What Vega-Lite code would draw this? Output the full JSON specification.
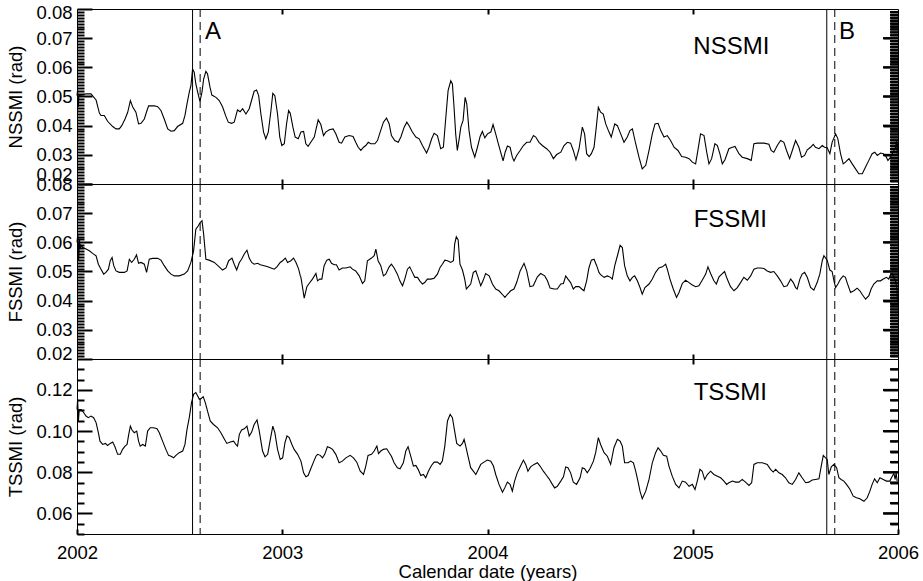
{
"$schema": "https://vega.github.io/schema/vega-lite/v6.json",
"background": "white",
"padding": {"left": 5, "top": 2, "right": 2, "bottom": 0},
"spacing": 0,
"bounds": "flush",
"config": {
  "view": {"stroke": "black", "strokeWidth": 1},
  "font": "Liberation Sans",
  "rule": {"color": "black", "strokeWidth": 1},
  "axis": {"domain": false, "grid": false, "labelFont": "Liberation Sans", "titleFont": "Liberation Sans", "labelFontSize": 18.5, "titleFontSize": 18.5, "labelColor": "black", "titleColor": "black", "tickColor": "black", "tickWidth": 2, "titleFontWeight": "normal"}
},
"datasets": {
"ev": [{"t": 2002.563, "k": "s"}, {"t": 2002.600, "k": "d"}, {"t": 2005.653, "k": "s"}, {"t": 2005.692, "k": "d"}],
"yt1": [{"v":0.021,"m":0},{"v":0.022,"m":0},{"v":0.023,"m":0},{"v":0.024,"m":0},{"v":0.025,"m":0},{"v":0.026,"m":0},{"v":0.027,"m":0},{"v":0.028,"m":0},{"v":0.029,"m":0},{"v":0.03,"m":1},{"v":0.031,"m":0},{"v":0.032,"m":0},{"v":0.033,"m":0},{"v":0.034,"m":0},{"v":0.035,"m":0},{"v":0.036,"m":0},{"v":0.037,"m":0},{"v":0.038,"m":0},{"v":0.039,"m":0},{"v":0.04,"m":1},{"v":0.041,"m":0},{"v":0.042,"m":0},{"v":0.043,"m":0},{"v":0.044,"m":0},{"v":0.045,"m":0},{"v":0.046,"m":0},{"v":0.047,"m":0},{"v":0.048,"m":0},{"v":0.049,"m":0},{"v":0.05,"m":1},{"v":0.051,"m":0},{"v":0.052,"m":0},{"v":0.053,"m":0},{"v":0.054,"m":0},{"v":0.055,"m":0},{"v":0.056,"m":0},{"v":0.057,"m":0},{"v":0.058,"m":0},{"v":0.059,"m":0},{"v":0.06,"m":1},{"v":0.061,"m":0},{"v":0.062,"m":0},{"v":0.063,"m":0},{"v":0.064,"m":0},{"v":0.065,"m":0},{"v":0.066,"m":0},{"v":0.067,"m":0},{"v":0.068,"m":0},{"v":0.069,"m":0},{"v":0.07,"m":1},{"v":0.071,"m":0},{"v":0.072,"m":0},{"v":0.073,"m":0},{"v":0.074,"m":0},{"v":0.075,"m":0},{"v":0.076,"m":0},{"v":0.077,"m":0},{"v":0.078,"m":0},{"v":0.079,"m":0}],
"yt2": [{"v":0.055,"m":0},{"v":0.06,"m":1},{"v":0.065,"m":0},{"v":0.07,"m":0},{"v":0.075,"m":0},{"v":0.08,"m":1},{"v":0.085,"m":0},{"v":0.09,"m":0},{"v":0.095,"m":0},{"v":0.1,"m":1},{"v":0.105,"m":0},{"v":0.11,"m":0},{"v":0.115,"m":0},{"v":0.12,"m":1},{"v":0.125,"m":0},{"v":0.13,"m":0}],
"labN": [{"t": 2002.662, "v": 0.0698, "s": "A"}, {"t": 2005.751, "v": 0.0698, "s": "B"}, {"t": 2005.188, "v": 0.0647, "s": "NSSMI"}],
"labF": [{"t": 2005.183, "v": 0.0652, "s": "FSSMI"}],
"labT": [{"t": 2005.183, "v": 0.1153, "s": "TSSMI"}],
"N": [
{"t":2002.000,"v":0.0503},{"t":2002.003,"v":0.0522},{"t":2002.006,"v":0.0463},{"t":2002.009,"v":0.0503},{"t":2002.020,"v":0.0505},{"t":2002.044,"v":0.0509},{"t":2002.068,"v":0.0509},{"t":2002.093,"v":0.0488},{"t":2002.109,"v":0.0443},{"t":2002.117,"v":0.0435},{"t":2002.133,"v":0.0435},{"t":2002.149,"v":0.0415},{"t":2002.174,"v":0.0397},{"t":2002.190,"v":0.0389},{"t":2002.206,"v":0.0389},{"t":2002.218,"v":0.0400},{"t":2002.234,"v":0.0423},{"t":2002.247,"v":0.0446},{"t":2002.260,"v":0.0486},{"t":2002.271,"v":0.0465},{"t":2002.287,"v":0.0446},{"t":2002.300,"v":0.0406},{"t":2002.312,"v":0.0408},{"t":2002.328,"v":0.0423},{"t":2002.341,"v":0.0452},{"t":2002.349,"v":0.0468},{"t":2002.377,"v":0.0468},{"t":2002.393,"v":0.0465},{"t":2002.409,"v":0.0452},{"t":2002.425,"v":0.0423},{"t":2002.442,"v":0.0389},{"t":2002.458,"v":0.0381},{"t":2002.474,"v":0.0383},{"t":2002.490,"v":0.0397},{"t":2002.515,"v":0.0408},{"t":2002.526,"v":0.0435},{"t":2002.536,"v":0.0475},{"t":2002.547,"v":0.0515},{"t":2002.555,"v":0.0537},{"t":2002.563,"v":0.0594},{"t":2002.571,"v":0.0583},{"t":2002.579,"v":0.0543},{"t":2002.588,"v":0.0515},{"t":2002.599,"v":0.0483},{"t":2002.609,"v":0.0515},{"t":2002.617,"v":0.0560},{"t":2002.628,"v":0.0586},{"t":2002.636,"v":0.0577},{"t":2002.648,"v":0.0532},{"t":2002.657,"v":0.0505},{"t":2002.677,"v":0.0497},{"t":2002.693,"v":0.0486},{"t":2002.709,"v":0.0465},{"t":2002.726,"v":0.0431},{"t":2002.737,"v":0.0412},{"t":2002.753,"v":0.0408},{"t":2002.766,"v":0.0412},{"t":2002.782,"v":0.0454},{"t":2002.795,"v":0.0448},{"t":2002.807,"v":0.0458},{"t":2002.823,"v":0.0440},{"t":2002.839,"v":0.0458},{"t":2002.851,"v":0.0488},{"t":2002.863,"v":0.0518},{"t":2002.875,"v":0.0522},{"t":2002.885,"v":0.0503},{"t":2002.896,"v":0.0440},{"t":2002.909,"v":0.0378},{"t":2002.920,"v":0.0355},{"t":2002.932,"v":0.0378},{"t":2002.945,"v":0.0452},{"t":2002.954,"v":0.0511},{"t":2002.964,"v":0.0503},{"t":2002.977,"v":0.0440},{"t":2002.988,"v":0.0361},{"t":2002.998,"v":0.0332},{"t":2003.010,"v":0.0338},{"t":2003.021,"v":0.0406},{"t":2003.031,"v":0.0452},{"t":2003.039,"v":0.0443},{"t":2003.052,"v":0.0395},{"t":2003.063,"v":0.0361},{"t":2003.078,"v":0.0355},
{"t":2003.091,"v":0.0378},{"t":2003.104,"v":0.0380},{"t":2003.115,"v":0.0338},{"t":2003.126,"v":0.0329},{"t":2003.139,"v":0.0343},{"t":2003.156,"v":0.0361},{"t":2003.167,"v":0.0395},{"t":2003.175,"v":0.0420},{"t":2003.188,"v":0.0404},{"t":2003.201,"v":0.0366},{"t":2003.212,"v":0.0378},{"t":2003.229,"v":0.0386},{"t":2003.248,"v":0.0389},{"t":2003.261,"v":0.0372},{"t":2003.277,"v":0.0343},{"t":2003.289,"v":0.0340},{"t":2003.305,"v":0.0361},{"t":2003.326,"v":0.0366},{"t":2003.345,"v":0.0363},{"t":2003.358,"v":0.0343},{"t":2003.370,"v":0.0326},{"t":2003.383,"v":0.0315},{"t":2003.396,"v":0.0326},{"t":2003.407,"v":0.0332},{"t":2003.419,"v":0.0343},{"t":2003.431,"v":0.0338},{"t":2003.451,"v":0.0338},{"t":2003.464,"v":0.0349},{"t":2003.477,"v":0.0378},{"t":2003.493,"v":0.0412},{"t":2003.508,"v":0.0426},{"t":2003.521,"v":0.0406},{"t":2003.532,"v":0.0366},{"t":2003.548,"v":0.0349},{"t":2003.565,"v":0.0343},{"t":2003.578,"v":0.0361},{"t":2003.594,"v":0.0395},{"t":2003.607,"v":0.0412},{"t":2003.618,"v":0.0400},{"t":2003.634,"v":0.0378},{"t":2003.651,"v":0.0361},{"t":2003.667,"v":0.0355},{"t":2003.683,"v":0.0332},{"t":2003.703,"v":0.0306},{"t":2003.715,"v":0.0326},{"t":2003.728,"v":0.0355},{"t":2003.740,"v":0.0374},{"t":2003.756,"v":0.0366},{"t":2003.772,"v":0.0321},{"t":2003.785,"v":0.0326},{"t":2003.797,"v":0.0429},{"t":2003.808,"v":0.0520},{"t":2003.821,"v":0.0554},{"t":2003.829,"v":0.0543},{"t":2003.837,"v":0.0463},{"t":2003.845,"v":0.0372},{"t":2003.853,"v":0.0315},{"t":2003.862,"v":0.0355},{"t":2003.870,"v":0.0395},{"t":2003.881,"v":0.0418},{"t":2003.891,"v":0.0497},{"t":2003.899,"v":0.0475},{"t":2003.910,"v":0.0383},{"t":2003.922,"v":0.0326},{"t":2003.938,"v":0.0292},{"t":2003.951,"v":0.0326},{"t":2003.964,"v":0.0363},{"t":2003.975,"v":0.0380},{"t":2003.987,"v":0.0358},{"t":2004.000,"v":0.0372},{"t":2004.016,"v":0.0378},{"t":2004.027,"v":0.0404},{"t":2004.040,"v":0.0372},{"t":2004.051,"v":0.0343},{"t":2004.064,"v":0.0309},{"t":2004.076,"v":0.0279},{"t":2004.086,"v":0.0309},{"t":2004.097,"v":0.0330},{"t":2004.110,"v":0.0326},{"t":2004.121,"v":0.0292},{"t":2004.129,"v":0.0279},{"t":2004.142,"v":0.0298},{"t":2004.159,"v":0.0315},{"t":2004.175,"v":0.0332},{"t":2004.191,"v":0.0343},{"t":2004.207,"v":0.0343},{"t":2004.224,"v":0.0366},{"t":2004.235,"v":0.0361},{"t":2004.251,"v":0.0343},{"t":2004.267,"v":0.0332},{"t":2004.288,"v":0.0321},{"t":2004.305,"v":0.0309},{"t":2004.321,"v":0.0287},{"t":2004.337,"v":0.0301},{"t":2004.357,"v":0.0309},{"t":2004.373,"v":0.0332},{"t":2004.389,"v":0.0343},{"t":2004.405,"v":0.0340},{"t":2004.418,"v":0.0315},{"t":2004.431,"v":0.0283},{"t":2004.446,"v":0.0321},{"t":2004.462,"v":0.0395},{"t":2004.473,"v":0.0372},{"t":2004.483,"v":0.0304},{"t":2004.495,"v":0.0294},{"t":2004.506,"v":0.0304},{"t":2004.519,"v":0.0326},{"t":2004.530,"v":0.0395},{"t":2004.540,"v":0.0463},
{"t":2004.551,"v":0.0446},{"t":2004.564,"v":0.0440},{"t":2004.576,"v":0.0406},{"t":2004.592,"v":0.0378},{"t":2004.603,"v":0.0361},{"t":2004.620,"v":0.0406},{"t":2004.633,"v":0.0400},{"t":2004.649,"v":0.0372},{"t":2004.665,"v":0.0343},{"t":2004.681,"v":0.0361},{"t":2004.694,"v":0.0383},{"t":2004.706,"v":0.0389},{"t":2004.722,"v":0.0338},{"t":2004.738,"v":0.0292},{"t":2004.754,"v":0.0252},{"t":2004.771,"v":0.0264},{"t":2004.787,"v":0.0315},{"t":2004.803,"v":0.0372},{"t":2004.816,"v":0.0406},{"t":2004.831,"v":0.0408},{"t":2004.844,"v":0.0383},{"t":2004.860,"v":0.0361},{"t":2004.876,"v":0.0366},{"t":2004.892,"v":0.0349},{"t":2004.909,"v":0.0326},{"t":2004.928,"v":0.0315},{"t":2004.946,"v":0.0294},{"t":2004.965,"v":0.0292},{"t":2004.982,"v":0.0287},{"t":2004.998,"v":0.0275},{"t":2005.014,"v":0.0269},{"t":2005.025,"v":0.0315},{"t":2005.038,"v":0.0372},{"t":2005.055,"v":0.0366},{"t":2005.068,"v":0.0309},{"t":2005.079,"v":0.0269},{"t":2005.092,"v":0.0287},{"t":2005.108,"v":0.0338},{"t":2005.120,"v":0.0332},{"t":2005.132,"v":0.0304},{"t":2005.144,"v":0.0269},{"t":2005.157,"v":0.0283},{"t":2005.176,"v":0.0321},{"t":2005.193,"v":0.0326},{"t":2005.206,"v":0.0329},{"t":2005.225,"v":0.0304},{"t":2005.241,"v":0.0292},{"t":2005.266,"v":0.0287},{"t":2005.285,"v":0.0281},{"t":2005.298,"v":0.0338},{"t":2005.314,"v":0.0340},{"t":2005.347,"v":0.0340},{"t":2005.371,"v":0.0336},{"t":2005.382,"v":0.0315},{"t":2005.395,"v":0.0309},{"t":2005.412,"v":0.0332},{"t":2005.428,"v":0.0349},{"t":2005.444,"v":0.0343},{"t":2005.457,"v":0.0315},{"t":2005.472,"v":0.0287},{"t":2005.485,"v":0.0315},{"t":2005.501,"v":0.0349},{"t":2005.517,"v":0.0326},{"t":2005.530,"v":0.0292},{"t":2005.545,"v":0.0298},{"t":2005.558,"v":0.0317},{"t":2005.574,"v":0.0326},{"t":2005.587,"v":0.0336},{"t":2005.598,"v":0.0326},{"t":2005.615,"v":0.0321},{"t":2005.631,"v":0.0332},{"t":2005.642,"v":0.0326},{"t":2005.655,"v":0.0324},{"t":2005.668,"v":0.0304},{"t":2005.679,"v":0.0343},{"t":2005.696,"v":0.0372},{"t":2005.707,"v":0.0355},{"t":2005.720,"v":0.0304},{"t":2005.733,"v":0.0269},{"t":2005.744,"v":0.0275},{"t":2005.761,"v":0.0287},{"t":2005.777,"v":0.0269},{"t":2005.793,"v":0.0252},{"t":2005.809,"v":0.0235},{"t":2005.826,"v":0.0235},{"t":2005.842,"v":0.0258},{"t":2005.858,"v":0.0281},{"t":2005.874,"v":0.0304},{"t":2005.887,"v":0.0309},{"t":2005.899,"v":0.0298},{"t":2005.915,"v":0.0306},{"t":2005.928,"v":0.0304},{"t":2005.939,"v":0.0298},{"t":2005.951,"v":0.0281},{"t":2005.964,"v":0.0292},{"t":2005.976,"v":0.0309},{"t":2005.988,"v":0.0326},{"t":2005.993,"v":0.0349},{"t":2005.996,"v":0.0304},{"t":2005.999,"v":0.0343}
],
"F": [
{"t":2002.000,"v":0.0600},{"t":2002.004,"v":0.0628},{"t":2002.008,"v":0.0537},{"t":2002.012,"v":0.0610},{"t":2002.016,"v":0.0577},{"t":2002.020,"v":0.0590},{"t":2002.028,"v":0.0582},{"t":2002.044,"v":0.0577},{"t":2002.060,"v":0.0571},{"t":2002.076,"v":0.0562},{"t":2002.093,"v":0.0554},{"t":2002.104,"v":0.0525},{"t":2002.117,"v":0.0508},{"t":2002.130,"v":0.0491},{"t":2002.141,"v":0.0497},{"t":2002.153,"v":0.0508},{"t":2002.162,"v":0.0537},{"t":2002.171,"v":0.0548},{"t":2002.179,"v":0.0520},{"t":2002.190,"v":0.0502},{"t":2002.206,"v":0.0497},{"t":2002.231,"v":0.0497},{"t":2002.244,"v":0.0502},{"t":2002.255,"v":0.0542},{"t":2002.266,"v":0.0531},{"t":2002.279,"v":0.0542},{"t":2002.290,"v":0.0557},{"t":2002.300,"v":0.0528},{"t":2002.312,"v":0.0531},{"t":2002.328,"v":0.0525},{"t":2002.339,"v":0.0497},{"t":2002.352,"v":0.0542},{"t":2002.368,"v":0.0545},{"t":2002.393,"v":0.0545},{"t":2002.409,"v":0.0539},{"t":2002.425,"v":0.0520},{"t":2002.442,"v":0.0502},{"t":2002.458,"v":0.0491},{"t":2002.474,"v":0.0485},{"t":2002.498,"v":0.0485},{"t":2002.523,"v":0.0491},{"t":2002.539,"v":0.0502},{"t":2002.555,"v":0.0531},{"t":2002.568,"v":0.0571},{"t":2002.579,"v":0.0645},{"t":2002.591,"v":0.0657},{"t":2002.600,"v":0.0668},{"t":2002.609,"v":0.0674},{"t":2002.617,"v":0.0628},{"t":2002.628,"v":0.0542},{"t":2002.644,"v":0.0539},{"t":2002.669,"v":0.0531},{"t":2002.693,"v":0.0516},{"t":2002.709,"v":0.0505},{"t":2002.726,"v":0.0512},{"t":2002.739,"v":0.0537},{"t":2002.755,"v":0.0546},{"t":2002.766,"v":0.0525},{"t":2002.778,"v":0.0505},{"t":2002.791,"v":0.0531},{"t":2002.802,"v":0.0542},{"t":2002.815,"v":0.0560},{"t":2002.828,"v":0.0573},{"t":2002.839,"v":0.0546},{"t":2002.851,"v":0.0531},{"t":2002.863,"v":0.0525},{"t":2002.880,"v":0.0528},{"t":2002.893,"v":0.0523},{"t":2002.912,"v":0.0520},{"t":2002.929,"v":0.0516},{"t":2002.945,"v":0.0512},{"t":2002.961,"v":0.0508},{"t":2002.974,"v":0.0516},{"t":2002.990,"v":0.0531},{"t":2003.002,"v":0.0537},{"t":2003.015,"v":0.0546},{"t":2003.026,"v":0.0531},{"t":2003.042,"v":0.0537},{"t":2003.055,"v":0.0546},{"t":2003.067,"v":0.0531},{"t":2003.080,"v":0.0508},{"t":2003.088,"v":0.0485},
{"t":2003.091,"v":0.0480},{"t":2003.099,"v":0.0445},{"t":2003.107,"v":0.0409},{"t":2003.120,"v":0.0448},{"t":2003.131,"v":0.0459},{"t":2003.147,"v":0.0474},{"t":2003.164,"v":0.0493},{"t":2003.172,"v":0.0468},{"t":2003.183,"v":0.0474},{"t":2003.193,"v":0.0474},{"t":2003.204,"v":0.0520},{"t":2003.217,"v":0.0539},{"t":2003.229,"v":0.0542},{"t":2003.240,"v":0.0528},{"t":2003.253,"v":0.0523},{"t":2003.264,"v":0.0523},{"t":2003.277,"v":0.0505},{"t":2003.293,"v":0.0512},{"t":2003.310,"v":0.0512},{"t":2003.331,"v":0.0516},{"t":2003.342,"v":0.0508},{"t":2003.358,"v":0.0502},{"t":2003.375,"v":0.0485},{"t":2003.391,"v":0.0459},{"t":2003.402,"v":0.0468},{"t":2003.415,"v":0.0537},{"t":2003.435,"v":0.0546},{"t":2003.448,"v":0.0554},{"t":2003.456,"v":0.0577},{"t":2003.467,"v":0.0537},{"t":2003.480,"v":0.0520},{"t":2003.493,"v":0.0485},{"t":2003.504,"v":0.0491},{"t":2003.521,"v":0.0516},{"t":2003.532,"v":0.0525},{"t":2003.545,"v":0.0512},{"t":2003.561,"v":0.0491},{"t":2003.573,"v":0.0468},{"t":2003.586,"v":0.0451},{"t":2003.597,"v":0.0474},{"t":2003.610,"v":0.0508},{"t":2003.621,"v":0.0516},{"t":2003.634,"v":0.0497},{"t":2003.646,"v":0.0480},{"t":2003.659,"v":0.0480},{"t":2003.670,"v":0.0468},{"t":2003.683,"v":0.0457},{"t":2003.694,"v":0.0462},{"t":2003.707,"v":0.0474},{"t":2003.724,"v":0.0474},{"t":2003.740,"v":0.0477},{"t":2003.756,"v":0.0491},{"t":2003.769,"v":0.0514},{"t":2003.780,"v":0.0525},{"t":2003.792,"v":0.0539},{"t":2003.805,"v":0.0537},{"t":2003.821,"v":0.0531},{"t":2003.834,"v":0.0537},{"t":2003.840,"v":0.0594},{"t":2003.848,"v":0.0619},{"t":2003.857,"v":0.0608},{"t":2003.866,"v":0.0525},{"t":2003.878,"v":0.0505},{"t":2003.889,"v":0.0474},{"t":2003.897,"v":0.0440},{"t":2003.907,"v":0.0448},{"t":2003.918,"v":0.0457},{"t":2003.931,"v":0.0497},{"t":2003.943,"v":0.0502},{"t":2003.954,"v":0.0480},{"t":2003.967,"v":0.0451},{"t":2003.978,"v":0.0468},{"t":2003.991,"v":0.0493},{"t":2004.008,"v":0.0485},{"t":2004.024,"v":0.0457},{"t":2004.040,"v":0.0440},{"t":2004.056,"v":0.0434},{"t":2004.072,"v":0.0422},{"t":2004.085,"v":0.0411},{"t":2004.097,"v":0.0422},{"t":2004.113,"v":0.0434},{"t":2004.129,"v":0.0440},{"t":2004.142,"v":0.0462},{"t":2004.159,"v":0.0502},{"t":2004.178,"v":0.0528},{"t":2004.191,"v":0.0502},{"t":2004.207,"v":0.0448},{"t":2004.223,"v":0.0451},{"t":2004.243,"v":0.0482},{"t":2004.259,"v":0.0493},{"t":2004.279,"v":0.0485},{"t":2004.292,"v":0.0468},{"t":2004.305,"v":0.0443},{"t":2004.324,"v":0.0440},{"t":2004.340,"v":0.0440},{"t":2004.357,"v":0.0457},{"t":2004.370,"v":0.0459},{"t":2004.381,"v":0.0485},{"t":2004.392,"v":0.0474},{"t":2004.405,"v":0.0462},{"t":2004.418,"v":0.0440},{"t":2004.430,"v":0.0448},{"t":2004.446,"v":0.0448},{"t":2004.459,"v":0.0440},{"t":2004.470,"v":0.0434},{"t":2004.483,"v":0.0468},{"t":2004.494,"v":0.0512},{"t":2004.506,"v":0.0539},{"t":2004.519,"v":0.0542},{"t":2004.532,"v":0.0520},{"t":2004.543,"v":0.0497},
{"t":2004.551,"v":0.0489},{"t":2004.568,"v":0.0480},{"t":2004.584,"v":0.0485},{"t":2004.600,"v":0.0480},{"t":2004.608,"v":0.0474},{"t":2004.620,"v":0.0520},{"t":2004.633,"v":0.0554},{"t":2004.646,"v":0.0590},{"t":2004.657,"v":0.0582},{"t":2004.668,"v":0.0520},{"t":2004.681,"v":0.0485},{"t":2004.694,"v":0.0468},{"t":2004.706,"v":0.0480},{"t":2004.717,"v":0.0485},{"t":2004.730,"v":0.0468},{"t":2004.743,"v":0.0445},{"t":2004.754,"v":0.0422},{"t":2004.767,"v":0.0445},{"t":2004.787,"v":0.0457},{"t":2004.803,"v":0.0474},{"t":2004.819,"v":0.0497},{"t":2004.835,"v":0.0512},{"t":2004.852,"v":0.0516},{"t":2004.868,"v":0.0525},{"t":2004.876,"v":0.0508},{"t":2004.889,"v":0.0474},{"t":2004.905,"v":0.0440},{"t":2004.921,"v":0.0411},{"t":2004.933,"v":0.0428},{"t":2004.949,"v":0.0459},{"t":2004.965,"v":0.0470},{"t":2004.982,"v":0.0462},{"t":2004.998,"v":0.0454},{"t":2005.014,"v":0.0448},{"t":2005.030,"v":0.0451},{"t":2005.046,"v":0.0470},{"t":2005.063,"v":0.0491},{"t":2005.074,"v":0.0516},{"t":2005.087,"v":0.0493},{"t":2005.103,"v":0.0468},{"t":2005.115,"v":0.0457},{"t":2005.128,"v":0.0482},{"t":2005.144,"v":0.0493},{"t":2005.155,"v":0.0500},{"t":2005.168,"v":0.0474},{"t":2005.184,"v":0.0448},{"t":2005.201,"v":0.0434},{"t":2005.217,"v":0.0445},{"t":2005.233,"v":0.0462},{"t":2005.249,"v":0.0480},{"t":2005.266,"v":0.0470},{"t":2005.282,"v":0.0485},{"t":2005.298,"v":0.0508},{"t":2005.314,"v":0.0512},{"t":2005.331,"v":0.0512},{"t":2005.347,"v":0.0510},{"t":2005.363,"v":0.0502},{"t":2005.379,"v":0.0497},{"t":2005.395,"v":0.0500},{"t":2005.412,"v":0.0485},{"t":2005.428,"v":0.0468},{"t":2005.444,"v":0.0448},{"t":2005.460,"v":0.0451},{"t":2005.477,"v":0.0474},{"t":2005.490,"v":0.0462},{"t":2005.501,"v":0.0445},{"t":2005.509,"v":0.0440},{"t":2005.522,"v":0.0474},{"t":2005.533,"v":0.0491},{"t":2005.545,"v":0.0497},{"t":2005.558,"v":0.0480},{"t":2005.574,"v":0.0445},{"t":2005.590,"v":0.0436},{"t":2005.606,"v":0.0462},{"t":2005.619,"v":0.0491},{"t":2005.631,"v":0.0537},{"t":2005.639,"v":0.0554},{"t":2005.655,"v":0.0539},{"t":2005.668,"v":0.0505},{"t":2005.679,"v":0.0500},{"t":2005.688,"v":0.0468},{"t":2005.696,"v":0.0445},{"t":2005.707,"v":0.0457},{"t":2005.720,"v":0.0474},{"t":2005.733,"v":0.0485},{"t":2005.744,"v":0.0480},{"t":2005.752,"v":0.0462},{"t":2005.769,"v":0.0428},{"t":2005.785,"v":0.0434},{"t":2005.801,"v":0.0443},{"t":2005.814,"v":0.0434},{"t":2005.825,"v":0.0422},{"t":2005.842,"v":0.0405},{"t":2005.858,"v":0.0417},{"t":2005.869,"v":0.0440},{"t":2005.882,"v":0.0457},{"t":2005.899,"v":0.0468},{"t":2005.915,"v":0.0468},{"t":2005.928,"v":0.0474},{"t":2005.944,"v":0.0480},{"t":2005.955,"v":0.0474},{"t":2005.964,"v":0.0489},{"t":2005.972,"v":0.0493},{"t":2005.980,"v":0.0480},{"t":2005.988,"v":0.0468},{"t":2005.994,"v":0.0445},{"t":2005.997,"v":0.0400}
],
"T": [
{"t":2002.000,"v":0.1105},{"t":2002.003,"v":0.1154},{"t":2002.007,"v":0.1049},{"t":2002.011,"v":0.1105},{"t":2002.020,"v":0.1105},{"t":2002.033,"v":0.1089},{"t":2002.044,"v":0.1073},{"t":2002.055,"v":0.1065},{"t":2002.068,"v":0.1073},{"t":2002.081,"v":0.1065},{"t":2002.093,"v":0.1041},{"t":2002.104,"v":0.0992},{"t":2002.112,"v":0.0951},{"t":2002.125,"v":0.0935},{"t":2002.138,"v":0.0940},{"t":2002.149,"v":0.0930},{"t":2002.162,"v":0.0940},{"t":2002.174,"v":0.0947},{"t":2002.185,"v":0.0924},{"t":2002.198,"v":0.0887},{"t":2002.211,"v":0.0887},{"t":2002.222,"v":0.0911},{"t":2002.234,"v":0.0927},{"t":2002.244,"v":0.0935},{"t":2002.252,"v":0.0984},{"t":2002.260,"v":0.1024},{"t":2002.268,"v":0.1005},{"t":2002.279,"v":0.0992},{"t":2002.291,"v":0.1000},{"t":2002.300,"v":0.0951},{"t":2002.308,"v":0.0927},{"t":2002.320,"v":0.0935},{"t":2002.333,"v":0.0927},{"t":2002.344,"v":0.1000},{"t":2002.357,"v":0.1016},{"t":2002.373,"v":0.1016},{"t":2002.390,"v":0.1011},{"t":2002.401,"v":0.0992},{"t":2002.417,"v":0.0951},{"t":2002.433,"v":0.0911},{"t":2002.446,"v":0.0882},{"t":2002.458,"v":0.0878},{"t":2002.471,"v":0.0870},{"t":2002.482,"v":0.0882},{"t":2002.498,"v":0.0895},{"t":2002.515,"v":0.0903},{"t":2002.526,"v":0.0935},{"t":2002.536,"v":0.1008},{"t":2002.547,"v":0.1065},{"t":2002.558,"v":0.1138},{"t":2002.568,"v":0.1178},{"t":2002.579,"v":0.1187},{"t":2002.588,"v":0.1170},{"t":2002.596,"v":0.1154},{"t":2002.604,"v":0.1157},{"t":2002.615,"v":0.1167},{"t":2002.625,"v":0.1138},{"t":2002.636,"v":0.1097},{"t":2002.649,"v":0.1049},{"t":2002.665,"v":0.1032},{"t":2002.685,"v":0.1016},{"t":2002.701,"v":0.0992},{"t":2002.717,"v":0.0963},{"t":2002.730,"v":0.0940},{"t":2002.747,"v":0.0947},{"t":2002.763,"v":0.0951},{"t":2002.774,"v":0.0935},{"t":2002.782,"v":0.0927},{"t":2002.791,"v":0.0984},{"t":2002.802,"v":0.1005},{"t":2002.815,"v":0.1011},{"t":2002.828,"v":0.1024},{"t":2002.839,"v":0.0976},{"t":2002.851,"v":0.0995},{"t":2002.863,"v":0.1032},{"t":2002.877,"v":0.1054},{"t":2002.888,"v":0.1000},{"t":2002.904,"v":0.0903},{"t":2002.916,"v":0.0875},{"t":2002.929,"v":0.0887},{"t":2002.942,"v":0.0960},{"t":2002.954,"v":0.1024},{"t":2002.964,"v":0.0992},{"t":2002.977,"v":0.0911},{"t":2002.990,"v":0.0862},{"t":2003.002,"v":0.0870},{"t":2003.013,"v":0.0943},{"t":2003.023,"v":0.0976},{"t":2003.034,"v":0.0968},{"t":2003.047,"v":0.0935},{"t":2003.058,"v":0.0911},{"t":2003.075,"v":0.0887},
{"t":2003.091,"v":0.0854},{"t":2003.104,"v":0.0797},{"t":2003.115,"v":0.0778},{"t":2003.126,"v":0.0784},{"t":2003.139,"v":0.0817},{"t":2003.152,"v":0.0849},{"t":2003.164,"v":0.0878},{"t":2003.172,"v":0.0887},{"t":2003.185,"v":0.0882},{"t":2003.196,"v":0.0870},{"t":2003.207,"v":0.0887},{"t":2003.220,"v":0.0924},{"t":2003.233,"v":0.0919},{"t":2003.245,"v":0.0911},{"t":2003.261,"v":0.0887},{"t":2003.277,"v":0.0846},{"t":2003.293,"v":0.0854},{"t":2003.310,"v":0.0870},{"t":2003.331,"v":0.0882},{"t":2003.347,"v":0.0870},{"t":2003.363,"v":0.0849},{"t":2003.380,"v":0.0805},{"t":2003.396,"v":0.0789},{"t":2003.407,"v":0.0830},{"t":2003.418,"v":0.0882},{"t":2003.435,"v":0.0887},{"t":2003.448,"v":0.0903},{"t":2003.461,"v":0.0927},{"t":2003.469,"v":0.0891},{"t":2003.480,"v":0.0903},{"t":2003.493,"v":0.0911},{"t":2003.509,"v":0.0914},{"t":2003.521,"v":0.0895},{"t":2003.532,"v":0.0878},{"t":2003.545,"v":0.0846},{"t":2003.561,"v":0.0822},{"t":2003.574,"v":0.0817},{"t":2003.590,"v":0.0846},{"t":2003.602,"v":0.0903},{"t":2003.613,"v":0.0924},{"t":2003.626,"v":0.0878},{"t":2003.639,"v":0.0830},{"t":2003.651,"v":0.0833},{"t":2003.662,"v":0.0814},{"t":2003.675,"v":0.0784},{"t":2003.688,"v":0.0789},{"t":2003.699,"v":0.0773},{"t":2003.712,"v":0.0805},{"t":2003.727,"v":0.0833},{"t":2003.740,"v":0.0849},{"t":2003.756,"v":0.0849},{"t":2003.769,"v":0.0838},{"t":2003.780,"v":0.0854},{"t":2003.792,"v":0.0927},{"t":2003.805,"v":0.1049},{"t":2003.818,"v":0.1081},{"t":2003.829,"v":0.1065},{"t":2003.840,"v":0.1000},{"t":2003.850,"v":0.0940},{"t":2003.866,"v":0.0927},{"t":2003.878,"v":0.0940},{"t":2003.886,"v":0.0960},{"t":2003.894,"v":0.0927},{"t":2003.905,"v":0.0878},{"t":2003.918,"v":0.0822},{"t":2003.931,"v":0.0805},{"t":2003.943,"v":0.0789},{"t":2003.951,"v":0.0805},{"t":2003.967,"v":0.0838},{"t":2003.983,"v":0.0849},{"t":2003.999,"v":0.0859},{"t":2004.016,"v":0.0854},{"t":2004.029,"v":0.0830},{"t":2004.040,"v":0.0789},{"t":2004.056,"v":0.0741},{"t":2004.073,"v":0.0703},{"t":2004.084,"v":0.0724},{"t":2004.097,"v":0.0752},{"t":2004.110,"v":0.0741},{"t":2004.121,"v":0.0708},{"t":2004.132,"v":0.0757},{"t":2004.145,"v":0.0797},{"t":2004.162,"v":0.0833},{"t":2004.175,"v":0.0859},{"t":2004.186,"v":0.0838},{"t":2004.197,"v":0.0805},{"t":2004.210,"v":0.0826},{"t":2004.227,"v":0.0838},{"t":2004.243,"v":0.0846},{"t":2004.256,"v":0.0830},{"t":2004.272,"v":0.0805},{"t":2004.288,"v":0.0784},{"t":2004.300,"v":0.0768},{"t":2004.316,"v":0.0741},{"t":2004.327,"v":0.0724},{"t":2004.340,"v":0.0732},{"t":2004.357,"v":0.0757},{"t":2004.370,"v":0.0778},{"t":2004.381,"v":0.0826},{"t":2004.392,"v":0.0822},{"t":2004.405,"v":0.0797},{"t":2004.418,"v":0.0752},{"t":2004.434,"v":0.0741},{"t":2004.451,"v":0.0773},{"t":2004.462,"v":0.0822},{"t":2004.473,"v":0.0817},{"t":2004.486,"v":0.0797},{"t":2004.499,"v":0.0817},{"t":2004.516,"v":0.0854},{"t":2004.527,"v":0.0895},{"t":2004.540,"v":0.0968},
{"t":2004.551,"v":0.0935},{"t":2004.568,"v":0.0895},{"t":2004.584,"v":0.0878},{"t":2004.600,"v":0.0838},{"t":2004.616,"v":0.0919},{"t":2004.633,"v":0.0960},{"t":2004.646,"v":0.0951},{"t":2004.657,"v":0.0927},{"t":2004.668,"v":0.0846},{"t":2004.685,"v":0.0846},{"t":2004.698,"v":0.0854},{"t":2004.711,"v":0.0846},{"t":2004.722,"v":0.0805},{"t":2004.733,"v":0.0757},{"t":2004.743,"v":0.0708},{"t":2004.754,"v":0.0671},{"t":2004.771,"v":0.0708},{"t":2004.787,"v":0.0765},{"t":2004.803,"v":0.0846},{"t":2004.819,"v":0.0895},{"t":2004.831,"v":0.0919},{"t":2004.844,"v":0.0903},{"t":2004.857,"v":0.0882},{"t":2004.873,"v":0.0878},{"t":2004.884,"v":0.0830},{"t":2004.900,"v":0.0781},{"t":2004.917,"v":0.0741},{"t":2004.933,"v":0.0724},{"t":2004.949,"v":0.0757},{"t":2004.965,"v":0.0752},{"t":2004.982,"v":0.0732},{"t":2004.998,"v":0.0741},{"t":2005.011,"v":0.0716},{"t":2005.022,"v":0.0757},{"t":2005.035,"v":0.0814},{"t":2005.046,"v":0.0805},{"t":2005.058,"v":0.0765},{"t":2005.071,"v":0.0789},{"t":2005.087,"v":0.0805},{"t":2005.103,"v":0.0789},{"t":2005.120,"v":0.0781},{"t":2005.136,"v":0.0773},{"t":2005.152,"v":0.0757},{"t":2005.165,"v":0.0741},{"t":2005.176,"v":0.0749},{"t":2005.193,"v":0.0757},{"t":2005.209,"v":0.0752},{"t":2005.225,"v":0.0752},{"t":2005.241,"v":0.0765},{"t":2005.257,"v":0.0752},{"t":2005.274,"v":0.0736},{"t":2005.287,"v":0.0749},{"t":2005.298,"v":0.0838},{"t":2005.314,"v":0.0846},{"t":2005.339,"v":0.0846},{"t":2005.363,"v":0.0838},{"t":2005.379,"v":0.0814},{"t":2005.392,"v":0.0801},{"t":2005.404,"v":0.0814},{"t":2005.420,"v":0.0797},{"t":2005.436,"v":0.0789},{"t":2005.452,"v":0.0773},{"t":2005.468,"v":0.0749},{"t":2005.485,"v":0.0741},{"t":2005.501,"v":0.0765},{"t":2005.517,"v":0.0797},{"t":2005.533,"v":0.0773},{"t":2005.550,"v":0.0749},{"t":2005.566,"v":0.0752},{"t":2005.582,"v":0.0762},{"t":2005.598,"v":0.0765},{"t":2005.615,"v":0.0768},{"t":2005.626,"v":0.0830},{"t":2005.636,"v":0.0882},{"t":2005.647,"v":0.0870},{"t":2005.655,"v":0.0862},{"t":2005.663,"v":0.0789},{"t":2005.675,"v":0.0826},{"t":2005.688,"v":0.0838},{"t":2005.701,"v":0.0822},{"t":2005.712,"v":0.0773},{"t":2005.723,"v":0.0765},{"t":2005.736,"v":0.0757},{"t":2005.749,"v":0.0741},{"t":2005.765,"v":0.0719},{"t":2005.782,"v":0.0684},{"t":2005.798,"v":0.0676},{"t":2005.814,"v":0.0671},{"t":2005.834,"v":0.0659},{"t":2005.850,"v":0.0676},{"t":2005.863,"v":0.0708},{"t":2005.874,"v":0.0741},{"t":2005.886,"v":0.0768},{"t":2005.899,"v":0.0749},{"t":2005.912,"v":0.0773},{"t":2005.928,"v":0.0765},{"t":2005.944,"v":0.0757},{"t":2005.960,"v":0.0757},{"t":2005.972,"v":0.0781},{"t":2005.980,"v":0.0794},{"t":2005.986,"v":0.0765},{"t":2005.991,"v":0.0797},{"t":2005.996,"v":0.0757}
]
},
"vconcat": [
{
 "width": 821, "height": 175,
 "resolve": {"axis": {"x": "independent", "y": "independent"}},
 "layer": [
  {"data": {"name": "N"}, "mark": {"type": "line", "color": "black", "strokeWidth": 1.1},
   "encoding": {
    "x": {"field": "t", "type": "quantitative", "scale": {"domain": [2002, 2006], "nice": false, "zero": false},
      "axis": {"orient": "bottom", "values": [2003, 2004, 2005], "labels": false, "tickSize": -5, "title": null}},
    "y": {"field": "v", "type": "quantitative", "scale": {"domain": [0.02, 0.08], "nice": false, "zero": false},
      "axis": {"orient": "left", "title": "NSSMI (rad)", "values": [0.02,0.021,0.022,0.023,0.024,0.025,0.026,0.027,0.028,0.029,0.03,0.031,0.032,0.033,0.034,0.035,0.036,0.037,0.038,0.039,0.04,0.041,0.042,0.043,0.044,0.045,0.046,0.047,0.048,0.049,0.05,0.051,0.052,0.053,0.054,0.055,0.056,0.057,0.058,0.059,0.06,0.061,0.062,0.063,0.064,0.065,0.066,0.067,0.068,0.069,0.07,0.071,0.072,0.073,0.074,0.075,0.076,0.077,0.078,0.079,0.08],
        "labelExpr": "abs(datum.value*100-round(datum.value*100))<0.01 ? format(datum.value, '.2f') : ''", "labelOverlap": false,
        "tickSize": {"condition": {"test": "abs(datum.value*100-round(datum.value*100))<0.01", "value": -15}, "value": -7},
        "labelPadding": 20, "titlePadding": 10.5,
        "labelBaseline": {"condition": {"test": "datum.value < 0.021", "value": "bottom"}, "value": "middle"},
        "labelOffset": {"condition": {"test": "datum.value > 0.079", "value": 3}, "value": 0}}}}},
  {"data": {"name": "ev"}, "mark": {"type": "rule"},
   "encoding": {
    "x": {"field": "t", "type": "quantitative", "axis": null},
    "strokeDash": {"field": "k", "type": "nominal", "scale": {"domain": ["s", "d"], "range": [[1, 0], [8, 5]]}, "legend": null}}},
  {"data": {"name": "labN"}, "mark": {"type": "text", "font": "Liberation Sans", "fontSize": 24, "align": "center", "baseline": "alphabetic", "color": "black"},
   "encoding": {
    "x": {"field": "t", "type": "quantitative", "axis": {"orient": "top", "values": [2003, 2004, 2005], "labels": false, "tickSize": -5, "title": null}},
    "y": {"field": "v", "type": "quantitative", "axis": {"orient": "right", "title": null, "labels": false, "values": [0.021,0.022,0.023,0.024,0.025,0.026,0.027,0.028,0.029,0.03,0.031,0.032,0.033,0.034,0.035,0.036,0.037,0.038,0.039,0.04,0.041,0.042,0.043,0.044,0.045,0.046,0.047,0.048,0.049,0.05,0.051,0.052,0.053,0.054,0.055,0.056,0.057,0.058,0.059,0.06,0.061,0.062,0.063,0.064,0.065,0.066,0.067,0.068,0.069,0.07,0.071,0.072,0.073,0.074,0.075,0.076,0.077,0.078,0.079],
        "tickSize": {"condition": {"test": "abs(datum.value*100-round(datum.value*100))<0.01", "value": -15}, "value": -8}}},
    "text": {"field": "s", "type": "nominal"}}},
  {"data": {"name": "yt1"}, "mark": {"type": "point", "shape": "M0,0L-2,0", "filled": false, "color": "black", "strokeWidth": 2, "opacity": 1},
   "encoding": {"x": {"datum": 2006, "type": "quantitative", "axis": null}, "y": {"field": "v", "type": "quantitative", "axis": null},
     "size": {"condition": {"test": "datum.m == 1", "value": 225}, "value": 64}}},
  {"data": {"name": "yt1"}, "transform": [{"filter": "datum.m == 1"}], "mark": {"type": "rule", "strokeWidth": 1.5},
   "encoding": {"x": {"datum": 2006, "type": "quantitative", "axis": null}, "x2": {"datum": 2005.927}, "y": {"field": "v", "type": "quantitative", "axis": null}}},
  {"data": {"name": "yt1"}, "transform": [{"filter": "datum.m == 0"}], "mark": {"type": "rule", "strokeWidth": 1.5},
   "encoding": {"x": {"datum": 2006, "type": "quantitative", "axis": null}, "x2": {"datum": 2005.961}, "y": {"field": "v", "type": "quantitative", "axis": null}}}
 ]
},
{
 "width": 821, "height": 175,
 "resolve": {"axis": {"x": "independent", "y": "independent"}},
 "layer": [
  {"data": {"name": "F"}, "mark": {"type": "line", "color": "black", "strokeWidth": 1.1},
   "encoding": {
    "x": {"field": "t", "type": "quantitative", "scale": {"domain": [2002, 2006], "nice": false, "zero": false},
      "axis": {"orient": "bottom", "values": [2003, 2004, 2005], "labels": false, "tickSize": -5, "title": null}},
    "y": {"field": "v", "type": "quantitative", "scale": {"domain": [0.02, 0.08], "nice": false, "zero": false},
      "axis": {"orient": "left", "title": "FSSMI (rad)", "values": [0.02,0.021,0.022,0.023,0.024,0.025,0.026,0.027,0.028,0.029,0.03,0.031,0.032,0.033,0.034,0.035,0.036,0.037,0.038,0.039,0.04,0.041,0.042,0.043,0.044,0.045,0.046,0.047,0.048,0.049,0.05,0.051,0.052,0.053,0.054,0.055,0.056,0.057,0.058,0.059,0.06,0.061,0.062,0.063,0.064,0.065,0.066,0.067,0.068,0.069,0.07,0.071,0.072,0.073,0.074,0.075,0.076,0.077,0.078,0.079,0.08],
        "labelExpr": "abs(datum.value*100-round(datum.value*100))<0.01 ? format(datum.value, '.2f') : ''", "labelOverlap": false,
        "tickSize": {"condition": {"test": "abs(datum.value*100-round(datum.value*100))<0.01", "value": -15}, "value": -7},
        "labelPadding": 20, "titlePadding": 10.5,
        "labelBaseline": {"condition": {"test": "datum.value < 0.021", "value": "alphabetic"}, "value": "middle"}}}}},
  {"data": {"name": "ev"}, "mark": {"type": "rule"},
   "encoding": {
    "x": {"field": "t", "type": "quantitative", "axis": null},
    "strokeDash": {"field": "k", "type": "nominal", "scale": {"domain": ["s", "d"], "range": [[1, 0], [8, 5]]}, "legend": null}}},
  {"data": {"name": "labF"}, "mark": {"type": "text", "font": "Liberation Sans", "fontSize": 24, "align": "center", "baseline": "alphabetic", "color": "black"},
   "encoding": {
    "x": {"field": "t", "type": "quantitative", "axis": {"orient": "top", "values": [2003, 2004, 2005], "labels": false, "tickSize": -5, "title": null}},
    "y": {"field": "v", "type": "quantitative", "axis": {"orient": "right", "title": null, "labels": false, "values": [0.021,0.022,0.023,0.024,0.025,0.026,0.027,0.028,0.029,0.03,0.031,0.032,0.033,0.034,0.035,0.036,0.037,0.038,0.039,0.04,0.041,0.042,0.043,0.044,0.045,0.046,0.047,0.048,0.049,0.05,0.051,0.052,0.053,0.054,0.055,0.056,0.057,0.058,0.059,0.06,0.061,0.062,0.063,0.064,0.065,0.066,0.067,0.068,0.069,0.07,0.071,0.072,0.073,0.074,0.075,0.076,0.077,0.078,0.079],
        "tickSize": {"condition": {"test": "abs(datum.value*100-round(datum.value*100))<0.01", "value": -15}, "value": -8}}},
    "text": {"field": "s", "type": "nominal"}}},
  {"data": {"name": "yt1"}, "mark": {"type": "point", "shape": "M0,0L-2,0", "filled": false, "color": "black", "strokeWidth": 2, "opacity": 1},
   "encoding": {"x": {"datum": 2006, "type": "quantitative", "axis": null}, "y": {"field": "v", "type": "quantitative", "axis": null},
     "size": {"condition": {"test": "datum.m == 1", "value": 225}, "value": 64}}},
  {"data": {"name": "yt1"}, "transform": [{"filter": "datum.m == 1"}], "mark": {"type": "rule", "strokeWidth": 1.5},
   "encoding": {"x": {"datum": 2006, "type": "quantitative", "axis": null}, "x2": {"datum": 2005.927}, "y": {"field": "v", "type": "quantitative", "axis": null}}},
  {"data": {"name": "yt1"}, "transform": [{"filter": "datum.m == 0"}], "mark": {"type": "rule", "strokeWidth": 1.5},
   "encoding": {"x": {"datum": 2006, "type": "quantitative", "axis": null}, "x2": {"datum": 2005.961}, "y": {"field": "v", "type": "quantitative", "axis": null}}}
 ]
},
{
 "width": 821, "height": 175,
 "resolve": {"axis": {"x": "independent", "y": "independent"}},
 "layer": [
  {"data": {"name": "T"}, "mark": {"type": "line", "color": "black", "strokeWidth": 1.1},
   "encoding": {
    "x": {"field": "t", "type": "quantitative", "scale": {"domain": [2002, 2006], "nice": false, "zero": false},
      "axis": {"orient": "bottom", "values": [2002, 2003, 2004, 2005, 2006], "format": "d", "tickSize": -5, "labelPadding": 14, "labelFlush": false, "title": "Calendar date (years)", "titlePadding": 1}},
    "y": {"field": "v", "type": "quantitative", "scale": {"domain": [0.05, 0.135], "nice": false, "zero": false},
      "axis": {"orient": "left", "title": "TSSMI (rad)", "values": [0.05,0.055,0.06,0.065,0.07,0.075,0.08,0.085,0.09,0.095,0.1,0.105,0.11,0.115,0.12,0.125,0.13],
        "labelExpr": "abs(datum.value*50-round(datum.value*50))<0.01 ? format(datum.value, '.2f') : ''", "labelOverlap": false,
        "tickSize": {"condition": {"test": "abs(datum.value*50-round(datum.value*50))<0.01", "value": -15}, "value": -7},
        "labelPadding": 20, "titlePadding": 10.5}}}},
  {"data": {"name": "ev"}, "mark": {"type": "rule"},
   "encoding": {
    "x": {"field": "t", "type": "quantitative", "axis": null},
    "strokeDash": {"field": "k", "type": "nominal", "scale": {"domain": ["s", "d"], "range": [[1, 0], [8, 5]]}, "legend": null}}},
  {"data": {"name": "labT"}, "mark": {"type": "text", "font": "Liberation Sans", "fontSize": 24, "align": "center", "baseline": "alphabetic", "color": "black"},
   "encoding": {
    "x": {"field": "t", "type": "quantitative", "axis": {"orient": "top", "values": [2003, 2004, 2005], "labels": false, "tickSize": -5, "title": null}},
    "y": {"field": "v", "type": "quantitative", "axis": {"orient": "right", "title": null, "labels": false, "values": [0.055,0.06,0.065,0.07,0.075,0.08,0.085,0.09,0.095,0.1,0.105,0.11,0.115,0.12,0.125,0.13],
        "tickSize": {"condition": {"test": "abs(datum.value*50-round(datum.value*50))<0.01", "value": -15}, "value": -8}}},
    "text": {"field": "s", "type": "nominal"}}},
  {"data": {"name": "yt2"}, "mark": {"type": "point", "shape": "M0,0L-2,0", "filled": false, "color": "black", "strokeWidth": 2, "opacity": 1},
   "encoding": {"x": {"datum": 2006, "type": "quantitative", "axis": null}, "y": {"field": "v", "type": "quantitative", "axis": null},
     "size": {"condition": {"test": "datum.m == 1", "value": 225}, "value": 64}}},
  {"data": {"name": "yt2"}, "transform": [{"filter": "datum.m == 1"}], "mark": {"type": "rule", "strokeWidth": 1.5},
   "encoding": {"x": {"datum": 2006, "type": "quantitative", "axis": null}, "x2": {"datum": 2005.927}, "y": {"field": "v", "type": "quantitative", "axis": null}}},
  {"data": {"name": "yt2"}, "transform": [{"filter": "datum.m == 0"}], "mark": {"type": "rule", "strokeWidth": 1.5},
   "encoding": {"x": {"datum": 2006, "type": "quantitative", "axis": null}, "x2": {"datum": 2005.961}, "y": {"field": "v", "type": "quantitative", "axis": null}}}
 ]
}
]
}
